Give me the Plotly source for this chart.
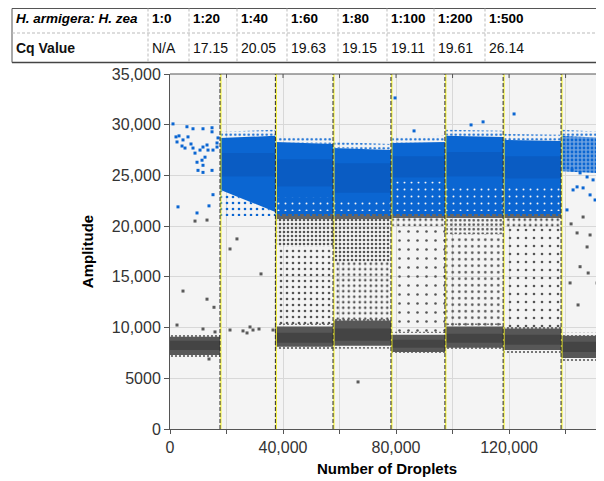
import math
import plotly.graph_objects as go

# ---------------- data ----------------
ratios = ["1:0", "1:20", "1:40", "1:60", "1:80", "1:100", "1:200", "1:500"]
cq_values = ["N/A", "17.15", "20.05", "19.63", "19.15", "19.11", "19.61", "26.14"]
row_labels = ["H. armigera: H. zea", "Cq Value"]

x_tick_vals = [0, 20000, 40000, 60000, 80000, 100000, 120000, 140000]
x_tick_text = ["0", "", "40,000", "", "80,000", "", "120,000", ""]
y_tick_vals = [0, 5000, 10000, 15000, 20000, 25000, 30000, 35000]
y_tick_text = ["0", "5000", "10,000", "15,000", "20,000", "25,000", "30,000", "35,000"]

well_start = [0, 17700, 37300, 57700, 78200, 97300, 117900, 138400]
well_end = [17700, 37300, 57700, 78200, 97300, 117900, 138400, 153600]
threshold = 21200

# positive (blue) cluster per well
pos_top_l = [None, 28700, 28300, 27700, 28200, 28900, 28500, 28900]
pos_top_r = [None, 28900, 28100, 27500, 28300, 28800, 28400, 28700]
pos_bot_l = [None, 23600, 21200, 21200, 21200, 21200, 21200, 25400]
pos_bot_r = [None, 21400, 21200, 21200, 21200, 21200, 21200, 25200]
pos_core_hi = [None, 27200, 26600, 26200, 26900, 27300, 26900, None]
pos_core_lo = [None, 24900, 23900, 23300, 24800, 24900, 24700, None]
pos_holes_hi = [None, None, 22800, 22400, 24400, 24000, 24000, None]
pos_solid = [False, True, True, True, True, True, True, False]

# negative (grey) cluster per well
neg_hi = [9100, None, 10100, 10700, 9300, 10100, 9900, 9200]
neg_lo = [7300, None, 8100, 8200, 7600, 8000, 7800, 7000]
neg_core_hi = [8700, None, 9500, 9900, 8800, 9400, 9300, 8600]
neg_core_lo = [7800, None, 8500, 8700, 8000, 8500, 8300, 7600]

# rain between clusters (pattern spacing in px: smaller = denser)
rain_tile = [None, None, 6, 5.5, 9, 6.5, 8, None]
dense_rain_lo = [None, None, 18000, 16500, 20000, 19200, 19800, None]
dense_rain_tile = [None, None, 4, 4, 5.5, 4.5, 5.5, None]
strip_lo = [None, None, 20700, 20700, 20800, 20800, 20800, None]

# individually visible droplets
blue_pts_x = [1060, 2120, 3190, 6000, 8140, 11680, 14870, 14870, 2480, 4600, 7430, 8140,
              8850, 10620, 11680, 13100, 13450, 12390, 11330, 9560, 11680, 11680, 9910,
              14870, 15220, 16640, 16990, 16640, 2830, 9560, 13800, 15220, 5310, 4250, 6370,
              140500, 142650, 144070, 146200, 148670, 150440, 145130, 147610, 149730,
              151500, 142300, 152210,
              79650, 121770, 110800, 106550, 86370]
blue_pts_y = [30080, 28800, 28900, 29800, 29600, 29600, 29300, 29700, 28300, 28500, 28100,
              27700, 27200, 27500, 27800, 28000, 27500, 26800, 26500, 26300, 26000, 25300,
              25500, 25500, 27500, 28200, 28700, 27800, 21900, 21300, 22000, 23100, 27700,
              27900, 28800,
              21600, 23570, 23870, 23770, 23080, 22580, 25250, 24850, 24560, 24260, 25540,
              25250,
              32640, 31060, 30280, 29980, 29390]
gray_pts_x = [8850, 13100, 2480, 4600, 13100, 11680, 15570, 15930, 13800,
              21240, 25840, 27260, 28320, 29380, 31500, 32210, 36460, 23700, 21240,
              66550,
              145130, 148000, 144420, 141590, 151150, 152920, 146200, 148670, 144070,
              141950, 147610]
gray_pts_y = [20500, 20600, 10250, 13600, 12800, 9860, 12000, 9570, 6900,
              9760, 9670, 9470, 10060, 9760, 9860, 15290, 9760, 18740, 17750,
              4640,
              16000, 15380, 12230, 14400, 14400, 14890, 20900, 19130, 19330,
              20220, 17950]

# ---------------- styling ----------------
BLUE = "#0b66d2"
BLUE_CORE = "#0a5cc3"
GREY = "#575757"
GREY_CORE = "#444444"
RAIN = "#555555"
PLOT_BG = "#f4f4f4"
FONT = "Liberation Sans, Arial, sans-serif"

fig = go.Figure()


def band(x0, x1, lo_l, lo_r, hi_l, hi_r, color=None, pattern=None):
    kw = dict(
        x=[x0, x1, x1, x0, x0],
        y=[lo_l, lo_r, hi_r, hi_l, lo_l],
        mode="lines", line=dict(width=0), fill="toself",
        hoverinfo="skip", showlegend=False,
    )
    if pattern is not None:
        kw["fillcolor"] = "rgba(0,0,0,0)"
        kw["fillpattern"] = pattern
    else:
        kw["fillcolor"] = color
    fig.add_trace(go.Scatter(**kw))


def dots(fg, size, diameter=2.6, bg="rgba(0,0,0,0)"):
    sol = min(0.9, math.pi * (diameter / 2) ** 2 / (size * size))
    return dict(shape=".", fgcolor=fg, bgcolor=bg, size=size, solidity=sol,
                fillmode="replace")


n = len(ratios)
# rain
for i in range(n):
    x0, x1 = well_start[i], well_end[i]
    if rain_tile[i]:
        band(x0, x1, neg_hi[i], neg_hi[i], dense_rain_lo[i], dense_rain_lo[i],
             pattern=dots(RAIN, rain_tile[i]))
        band(x0, x1, dense_rain_lo[i], dense_rain_lo[i], strip_lo[i], strip_lo[i],
             pattern=dots(RAIN, dense_rain_tile[i]))
        band(x0, x1, strip_lo[i], strip_lo[i], threshold, threshold, color="#646464")

# negative clusters
for i in range(n):
    if neg_hi[i] is None:
        continue
    x0, x1 = well_start[i], well_end[i]
    band(x0, x1, neg_lo[i] - 300, neg_lo[i] - 300, neg_hi[i] + 300, neg_hi[i] + 300,
         pattern=dots(GREY, 4, 2.2))
    band(x0, x1, neg_lo[i], neg_lo[i], neg_hi[i], neg_hi[i], color=GREY)
    band(x0, x1, neg_core_lo[i], neg_core_lo[i], neg_core_hi[i], neg_core_hi[i],
         color=GREY_CORE)

# positive clusters
for i in range(n):
    if pos_top_l[i] is None:
        continue
    x0, x1 = well_start[i], well_end[i]
    band(x0, x1, pos_top_l[i], pos_top_r[i], pos_top_l[i] + 600, pos_top_r[i] + 600,
         pattern=dots(BLUE, 4.5, 2.4))
    if pos_solid[i]:
        band(x0, x1, threshold - 200, threshold - 200, pos_bot_l[i], pos_bot_r[i],
             pattern=dots(BLUE, 6, 2.6))
        band(x0, x1, pos_bot_l[i], pos_bot_r[i], pos_top_l[i], pos_top_r[i], color=BLUE)
        band(x0, x1, pos_core_lo[i], pos_core_lo[i], pos_core_hi[i], pos_core_hi[i],
             color=BLUE_CORE)
        if pos_holes_hi[i]:
            band(x0, x1, pos_bot_l[i] + 300, pos_bot_r[i] + 300, pos_holes_hi[i],
                 pos_holes_hi[i], pattern=dots(PLOT_BG, 7, 2.0))
    else:
        band(x0, x1, pos_bot_l[i], pos_bot_r[i], pos_top_l[i], pos_top_r[i],
             pattern=dots(BLUE, 4, 2.8, bg="rgba(11,102,210,0.6)"))

fig.add_trace(go.Scatter(x=gray_pts_x, y=gray_pts_y, mode="markers",
                         marker=dict(symbol="square", size=3, color="#5a5a5a"),
                         hoverinfo="skip", showlegend=False))
fig.add_trace(go.Scatter(x=blue_pts_x, y=blue_pts_y, mode="markers",
                         marker=dict(symbol="square", size=3, color=BLUE),
                         hoverinfo="skip", showlegend=False))

# ---------------- layout geometry ----------------
# the page body adds an 8px offset; all positions below are page pixels
OFF = 8
W, H = 604 - OFF, 481 - OFF
PLOT_L, PLOT_T, PLOT_B = 170, 74, 429
ML, MT, MB = PLOT_L - OFF, PLOT_T - OFF, 481 - PLOT_B
PW, PH = 604 - PLOT_L, PLOT_B - PLOT_T


def px2x(px):
    return (px - PLOT_L) / PW


def py2y(py):
    return (PLOT_B - py) / PH


shapes = []
for b in well_start[1:]:
    shapes.append(dict(type="line", xref="x", yref="paper", x0=b + 300, x1=b + 300,
                       y0=0, y1=1, line=dict(color="#f2ef2a", width=1.2), layer="above"))
    shapes.append(dict(type="line", xref="x", yref="paper", x0=b, x1=b, y0=0, y1=1,
                       line=dict(color="#2a2a2a", width=1, dash="4px,2px"), layer="above"))
shapes.append(dict(type="line", xref="paper", yref="paper", x0=0, x1=1.01, y0=1, y1=1,
                   line=dict(color="#555555", width=1)))
for t in x_tick_vals[1:]:
    shapes.append(dict(type="line", xref="x", yref="paper", x0=t, x1=t, y0=1,
                       y1=1 - 4 / PH, line=dict(color="#555555", width=1)))

# table
tb_top, tb_mid, tb_bot = 8.5, 33, 62.5
tb_left, tb_right = 12, 620
col_sep = [148, 189, 237, 287, 338, 387, 434, 485]
shapes.append(dict(type="line", xref="paper", yref="paper", x0=px2x(tb_left), x1=px2x(tb_right),
                   y0=py2y(tb_top), y1=py2y(tb_top), line=dict(color="#555555", width=1)))
shapes.append(dict(type="line", xref="paper", yref="paper", x0=px2x(tb_left), x1=px2x(tb_right),
                   y0=py2y(tb_bot), y1=py2y(tb_bot), line=dict(color="#444444", width=1.5)))
shapes.append(dict(type="line", xref="paper", yref="paper", x0=px2x(tb_left), x1=px2x(tb_left),
                   y0=py2y(tb_top), y1=py2y(tb_bot), line=dict(color="#555555", width=1)))
shapes.append(dict(type="line", xref="paper", yref="paper", x0=px2x(tb_left), x1=px2x(tb_right),
                   y0=py2y(tb_mid), y1=py2y(tb_mid),
                   line=dict(color="#bbbbbb", width=1, dash="3px,2px")))
for s in col_sep:
    shapes.append(dict(type="line", xref="paper", yref="paper", x0=px2x(s), x1=px2x(s),
                       y0=py2y(tb_top), y1=py2y(tb_bot),
                       line=dict(color="#bbbbbb", width=1, dash="3px,2px")))

annotations = []
row1 = ["<b><i>" + row_labels[0] + "</i></b>"] + ["<b>" + r + "</b>" for r in ratios]
row2 = ["<b>" + row_labels[1] + "</b>"] + cq_values
col_left = [tb_left] + col_sep
for j in range(len(row1)):
    annotations.append(dict(xref="paper", yref="paper", x=px2x(col_left[j] + 1.5),
                            y=py2y(19), text=row1[j], showarrow=False, xanchor="left",
                            yanchor="middle",
                            font=dict(family=FONT, size=13.5, color="#000000")))
    annotations.append(dict(xref="paper", yref="paper", x=px2x(col_left[j] + 1.5),
                            y=py2y(47.5), text=row2[j], showarrow=False, xanchor="left",
                            yanchor="middle",
                            font=dict(family=FONT, size=14, color="#111111")))

fig.update_layout(
    width=W, height=H,
    margin=dict(l=ML, r=0, t=MT, b=MB, pad=0, autoexpand=False),
    paper_bgcolor="#ffffff", plot_bgcolor=PLOT_BG,
    font=dict(family=FONT, size=16, color="#333333"),
    shapes=shapes, annotations=annotations, showlegend=False,
    xaxis=dict(range=[0, 153600], tickvals=x_tick_vals, ticktext=x_tick_text,
               showgrid=True, gridcolor="#d8d8d8", gridwidth=1, zeroline=False,
               showline=True, linecolor="#555555", linewidth=1,
               ticks="outside", ticklen=4, tickcolor="#555555",
               tickfont=dict(size=16, color="#333333"),
               title=dict(text="<b>Number of Droplets</b>", standoff=8,
                          font=dict(size=15, color="#000000"))),
    yaxis=dict(range=[0, 35000], tickvals=y_tick_vals, ticktext=y_tick_text,
               showgrid=True, gridcolor="#d8d8d8", gridwidth=1, zeroline=False,
               showline=True, linecolor="#555555", linewidth=1,
               ticks="outside", ticklen=5, tickcolor="#555555",
               tickfont=dict(size=16, color="#333333"),
               title=dict(text="<b>Amplitude</b>", standoff=14,
                          font=dict(size=15, color="#000000"))),
)

fig.write_html("out.html")
